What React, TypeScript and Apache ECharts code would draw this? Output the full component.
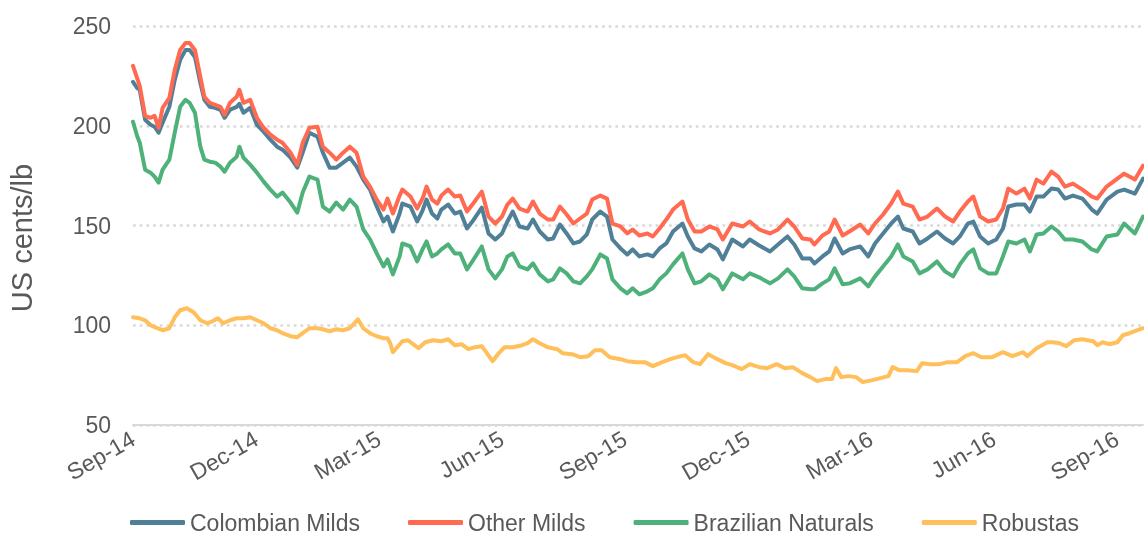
import React, { useEffect, useRef } from "react";
import * as echarts from "echarts";

// Days since 1 Sep 2014 for the three Arabica groups' sampled points
const arabicaDays = [
  0, 3, 5, 9, 13, 16, 19, 22, 27, 31,
  35, 39, 42, 46, 50, 53, 57, 61, 65, 68,
  72, 77, 79, 82, 87, 92, 97, 102, 107, 111,
  117, 122, 126, 131, 137, 141, 146, 151, 156, 161,
  166, 171, 176, 181, 186, 189, 193, 198, 200, 206,
  211, 215, 218, 222, 226, 229, 234, 239, 243, 248,
  252, 259, 264, 269, 274, 278, 282, 287, 293, 297,
  302, 308, 312, 317, 322, 327, 332, 337, 341, 347,
  352, 356, 362, 367, 371, 376, 382, 386, 391, 396,
  401, 408, 412, 417, 422, 428, 434, 438, 445, 453,
  458, 465, 473, 479, 486, 491, 497, 503, 506, 512,
  517, 521, 527, 532, 540, 546, 551, 557, 563, 568,
  572, 579, 584, 590, 597, 603, 609, 614, 620, 624,
  629, 635, 641, 646, 650, 656, 662, 666, 671, 676,
  682, 687, 692, 698, 705, 712, 716, 723, 731, 736,
  744, 750,
];

const colombianMilds = [
  222, 219, 218, 203, 200.5, 199.5, 196.5, 201.5, 209.5, 223,
  233, 238, 238, 234.5, 221.5, 213, 209.5, 209, 208, 204,
  208, 209.5, 211, 206.5, 209, 200.5, 197, 193, 189.5, 188,
  184, 179, 186.5, 196.5, 194.5, 186.5, 179, 179, 181.5, 184,
  179.5, 173, 168, 159.5, 152, 154.5, 147, 156, 161, 159.5,
  152, 157.5, 163, 156, 153.5, 158, 160.5, 156, 157, 148.5,
  152, 159, 146, 143, 146, 152, 157, 149.5, 148.5, 153,
  147, 143, 143.5, 150.5, 146, 141, 142, 145.5, 153, 157,
  154.5, 143, 138.5, 135.5, 138, 134.5, 135.5, 134.5, 138.5, 141,
  147, 151, 144.5, 138.5, 137, 140.5, 138, 133, 143, 139.5,
  143, 140, 137, 140.5, 144.5, 140.5, 133.5, 133.5, 131, 134.5,
  137, 143.5, 136, 138, 139.5, 134.5, 141, 146, 151, 154.5,
  148.5, 147, 141, 143.5, 147, 143.5, 141, 144.5, 151, 152,
  144.5, 141, 143, 148.5, 159.5, 160.5, 160.5, 157, 164.5, 164.5,
  168.5, 168, 163.5, 165, 163.5, 158, 156, 163, 167, 168,
  166, 173.5,
];

const otherMilds = [
  230, 224, 220, 205, 204, 205, 199, 209, 214, 228,
  238, 241.5, 241.5, 238, 224.5, 214.5, 211.5, 210.5, 209.5, 205.5,
  211.5, 214.5, 218, 211.5, 213, 204, 199, 195.5, 193, 191.5,
  186.5, 180.5, 191.5, 199, 199.5, 189.5, 186.5, 183, 186.5, 189.5,
  186.5, 174.5, 169.5, 163, 158, 163.5, 156, 165, 168, 164.5,
  158.5, 163.5, 169.5, 163, 161, 165, 168, 164.5, 165, 157,
  160.5, 167, 154.5, 151, 154.5, 160.5, 163.5, 158.5, 157, 162,
  156, 153, 153, 159.5, 155.5, 151, 153.5, 156, 163, 165,
  163.5, 151, 149.5, 146, 148, 145, 146, 144.5, 148.5, 153,
  158, 162, 153, 147, 147, 149.5, 148, 143, 151, 149.5,
  152, 148, 146, 148, 153, 149.5, 143.5, 143, 140.5, 145,
  147, 153, 145, 147, 150.5, 146, 151, 155.5, 161, 167,
  161, 159.5, 153, 154.5, 158.5, 154.5, 152, 157, 162, 164.5,
  154.5, 152, 153, 158.5, 168.5, 166, 168.5, 163.5, 173, 171,
  177, 174.5, 169.5, 171, 168, 164.5, 163.5, 169.5, 173.5, 176,
  173, 180,
];

const brazilianNaturals = [
  202, 195, 191.5, 178, 176.5, 174.5, 171.5, 178, 183, 196.5,
  209.5, 213, 211.5, 206.5, 189.5, 183, 182, 181.5, 179.5, 177,
  181.5, 184.5, 189.5, 184, 180.5, 176.5, 172, 168, 164.5, 166.5,
  161.5, 156.5, 166.5, 174.5, 173, 159.5, 157, 161.5, 158, 163,
  159.5, 148, 143, 136, 129.5, 133, 125.5, 134.5, 141, 139.5,
  132, 138, 142, 134.5, 136, 138, 140.5, 136, 136, 128,
  132, 139.5, 128, 123.5, 128, 134.5, 136, 129.5, 128, 131,
  125.5, 122, 123, 128.5, 126, 122, 121, 124.5, 128, 135.5,
  133.5, 123, 118.5, 116, 118.5, 115.5, 117, 118.5, 123, 126,
  130.5, 136, 128, 121, 122, 125.5, 123, 118, 126, 123,
  126, 124, 121, 123.5, 128, 124.5, 118.5, 118, 118, 121,
  123, 128.5, 120.5, 121, 123.5, 119.5, 124.5, 129.5, 134.5, 140.5,
  134.5, 132, 126, 128, 132, 127, 124.5, 130.5, 136, 138,
  128.5, 126, 126, 134.5, 142, 141, 143, 137, 145.5, 146,
  149.5, 147, 143, 143, 142, 138, 137, 144.5, 145.5, 151,
  146, 154.5,
];

// Days since 1 Sep 2014 for the Robustas sampled points
const robustaDays = [
  0, 5, 9, 13, 18, 22, 27, 31, 35, 40,
  45, 50, 55, 59, 63, 67, 72, 77, 82, 87,
  92, 97, 102, 107, 111, 117, 122, 126, 131, 137,
  141, 146, 151, 156, 161, 165, 167, 171, 176, 181,
  186, 189, 191, 193, 200, 204, 212, 217, 223, 229,
  234, 239, 244, 249, 254, 259, 267, 271, 276, 282,
  289, 293, 297, 302, 308, 315, 319, 326, 332, 338,
  343, 348, 354, 362, 367, 374, 380, 386, 393, 399,
  404, 410, 416, 421, 427, 434, 440, 445, 452, 458,
  465, 471, 478, 484, 490, 497, 503, 508, 514, 519,
  522, 526, 531, 537, 542, 549, 555, 561, 564, 569,
  575, 582, 586, 592, 599, 605, 612, 618, 624, 630,
  638, 646, 653, 661, 664, 671, 679, 683, 688, 693,
  699, 705, 713, 716, 720, 725, 731, 735, 740, 750,
];

const robustas = [
  104, 103.5, 102.5, 100, 98.5, 97.5, 98.5, 104, 107.5, 108.5,
  106.5, 102.5, 101, 102, 103.5, 101, 102.5, 103.5, 103.5, 104,
  102.5, 101, 98.5, 97.5, 96, 94.5, 94, 96, 98.5, 98.5,
  98, 97, 98, 97.5, 98.5, 101.5, 103, 98.5, 96, 94.5,
  93.5, 93.5, 91, 86.5, 92, 92.5, 88.5, 91.5, 92.5, 92,
  93, 90, 90.5, 88, 89, 89.5, 82, 85.5, 89, 89,
  90, 91, 93, 91, 89, 88, 86, 85.5, 84, 84.5,
  87.5, 87.5, 84, 83, 82, 81.5, 81.5, 79.5, 81.5, 83,
  84, 85, 81.5, 80.5, 85.5, 83, 81, 80, 78, 80.5,
  79, 78.5, 80.5, 78.5, 79, 76, 74, 72, 73, 73,
  78.5, 74, 74.5, 74, 71.5, 72.5, 73.5, 74.5, 79, 77.5,
  77.5, 77, 81, 80.5, 80.5, 81.5, 81.5, 84.5, 86, 84,
  84, 86.5, 84.5, 86.5, 84.5, 88.5, 91.5, 91.5, 91, 89.5,
  92.5, 93, 92, 90, 91.5, 90.5, 91.5, 95, 96, 98.5,
];

const tickLabels = [
  "Sep-14", "Dec-14", "Mar-15", "Jun-15", "Sep-15",
  "Dec-15", "Mar-16", "Jun-16", "Sep-16",
];
const seriesNames = ["Colombian Milds", "Other Milds", "Brazilian Naturals", "Robustas"];
const seriesColors = ["#507f98", "#ff6a50", "#4eb179", "#ffbf5a"];
const yTitle = "US cents/lb";

const DAYS_PER_MONTH = 30.4375;
const LAST_DAY = 750;
const FONT = "'Liberation Sans', Arial, sans-serif";
const TEXT_COLOR = "#595959";

function toPairs(days: number[], vals: number[]) {
  return days.map((d, i) => [d / DAYS_PER_MONTH, vals[i]]);
}

export default function App() {
  const ref = useRef<HTMLDivElement>(null);

  useEffect(() => {
    if (!ref.current) return;
    const chart = echarts.init(ref.current, null, { renderer: "svg" });
    const dataSets = [
      toPairs(arabicaDays, colombianMilds),
      toPairs(arabicaDays, otherMilds),
      toPairs(arabicaDays, brazilianNaturals),
      toPairs(robustaDays, robustas),
    ];
    chart.setOption({
      animation: false,
      textStyle: { fontFamily: FONT },
      grid: { left: 133, right: 1, top: 26, bottom: 110, containLabel: false },
      xAxis: {
        type: "value",
        min: 0,
        max: LAST_DAY / DAYS_PER_MONTH,
        interval: 3,
        axisLine: { show: true, lineStyle: { color: "#d9d9d9", width: 2 } },
        axisTick: { show: false },
        splitLine: { show: false },
        axisLabel: {
          rotate: 30,
          margin: 12,
          fontSize: 23,
          color: TEXT_COLOR,
          fontFamily: FONT,
          showMaxLabel: false,
          formatter: (v: number) => {
            const i = Math.round(v / 3);
            return Math.abs(v - i * 3) < 1e-6 ? tickLabels[i] ?? "" : "";
          },
        },
      },
      yAxis: {
        type: "value",
        min: 50,
        max: 250,
        interval: 50,
        axisLine: { show: false },
        axisTick: { show: false },
        axisLabel: { fontSize: 23, color: TEXT_COLOR, margin: 22, fontFamily: FONT },
        splitLine: {
          show: true,
          lineStyle: { color: "#d9d9d9", width: 2.5, type: [2.7, 4] },
        },
      },
      legend: {
        show: true,
        left: 130,
        top: 511,
        padding: 0,
        icon: "roundRect",
        itemWidth: 55,
        itemHeight: 5,
        itemGap: 48,
        textStyle: {
          fontSize: 23,
          lineHeight: 23,
          color: TEXT_COLOR,
          fontFamily: FONT,
        },
        data: seriesNames,
      },
      graphic: [
        {
          type: "text",
          x: 22,
          y: 238,
          rotation: Math.PI / 2,
          style: {
            text: yTitle,
            fontSize: 29,
            fill: TEXT_COLOR,
            fontFamily: FONT,
            align: "center",
            verticalAlign: "middle",
          },
        },
      ],
      series: seriesNames.map((name, i) => ({
        name,
        type: "line",
        data: dataSets[i],
        showSymbol: false,
        symbol: "none",
        smooth: false,
        color: seriesColors[i],
        lineStyle: { width: 4, color: seriesColors[i], cap: "round", join: "round" },
      })),
    });
    return () => chart.dispose();
  }, []);

  return (
    <div
      ref={ref}
      style={{ position: "fixed", left: 0, top: 0, width: 1144, height: 535 }}
    />
  );
}
